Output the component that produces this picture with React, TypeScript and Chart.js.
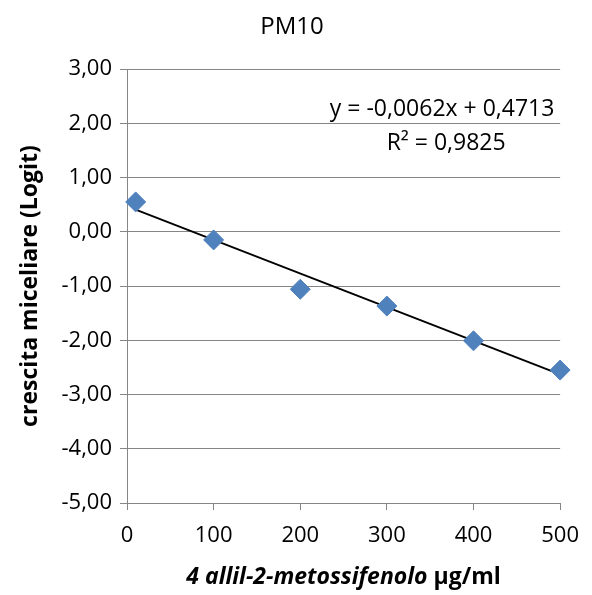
import React, { useEffect, useRef } from 'react';
import { Chart, registerables } from 'chart.js';

Chart.register(...registerables);

// ---- data ----
const concentrations = [10, 100, 200, 300, 400, 500];
const logitGrowth = [0.55, -0.15, -1.06, -1.37, -2.01, -2.55];
const trendSlope = -0.0062;
const trendIntercept = 0.4713;
const trendRange = [10, 500];
const xTickValues = [0, 100, 200, 300, 400, 500];
const yTickValues = [3, 2, 1, 0, -1, -2, -3, -4, -5];
const chartTitle = 'PM10';
const yAxisTitle = 'crescita miceliare (Logit)';
const xAxisTitleItalic = '4 allil-2-metossifenolo';
const xAxisTitleUnit = ' µg/ml';
const equationLines = ['y = -0,0062x + 0,4713', 'R² = 0,9825'];

const FONT = '"Open Sans", sans-serif';
const GRID = '#868686';
const MARKER = '#4F81BD';

const fmt = (v: number) => v.toFixed(2).replace('.', ',');

const textPlugin = {
  id: 'customText',
  afterDraw(chart: any) {
    const { ctx, chartArea } = chart;
    const cx = (chartArea.left + chartArea.right) / 2;
    const cy = (chartArea.top + chartArea.bottom) / 2;
    ctx.save();
    ctx.fillStyle = '#000';
    ctx.textBaseline = 'middle';

    // title
    ctx.textAlign = 'center';
    ctx.font = `24px ${FONT}`;
    ctx.fillText(chartTitle, chart.width / 2 - 4, 27);

    // equation
    ctx.font = `23px ${FONT}`;
    ctx.fillText(equationLines[0], chartArea.right - 118, chartArea.top + 40);
    ctx.fillText(equationLines[1], chartArea.right - 114, chartArea.top + 74);

    // y axis title
    ctx.save();
    ctx.translate(30, cy);
    ctx.rotate(-Math.PI / 2);
    ctx.font = `bold 23px ${FONT}`;
    ctx.textAlign = 'center';
    ctx.fillText(yAxisTitle, 0, 0);
    ctx.restore();

    // x axis title (mixed style)
    const italicFont = `italic bold 23px ${FONT}`;
    const boldFont = `bold 23px ${FONT}`;
    ctx.font = italicFont;
    const w1 = ctx.measureText(xAxisTitleItalic).width;
    ctx.font = boldFont;
    const w2 = ctx.measureText(xAxisTitleUnit).width;
    const start = cx - (w1 + w2) / 2;
    ctx.textAlign = 'left';
    ctx.font = italicFont;
    ctx.fillText(xAxisTitleItalic, start, 577);
    ctx.font = boldFont;
    ctx.fillText(xAxisTitleUnit, start + w1, 577);
    ctx.restore();
  },
};

export default function App() {
  const ref = useRef<HTMLCanvasElement>(null);

  useEffect(() => {
    document.body.style.margin = '0';
    const canvas = ref.current;
    if (!canvas) return;
    const points = concentrations.map((x, i) => ({ x, y: logitGrowth[i] }));
    const trend = trendRange.map((x) => ({ x, y: trendIntercept + trendSlope * x }));

    const chart = new Chart(canvas, {
      type: 'scatter',
      data: {
        datasets: [
          {
            data: trend,
            showLine: true,
            borderColor: '#000000',
            borderWidth: 1.8,
            pointRadius: 0,
            pointHoverRadius: 0,
            clip: false,
            order: 2,
          },
          {
            data: points,
            pointStyle: 'rectRot',
            pointRadius: 10,
            pointHoverRadius: 10,
            backgroundColor: MARKER,
            borderColor: MARKER,
            borderWidth: 1,
            clip: false,
            order: 1,
          },
        ],
      },
      options: {
        responsive: false,
        animation: false,
        layout: { padding: { top: 69, right: 27, left: 0, bottom: 0 } },
        plugins: {
          legend: { display: false },
          title: { display: false },
          tooltip: { enabled: false },
        },
        scales: {
          x: {
            type: 'linear',
            min: 0,
            max: 500,
            afterBuildTicks: (s: any) => {
              s.ticks = xTickValues.map((v) => ({ value: v }));
            },
            afterFit: (s: any) => {
              s.height = 92;
            },
            ticks: {
              color: '#000',
              font: { family: FONT, size: 22 },
              padding: 13,
              maxRotation: 0,
              callback: (v: any) => String(v),
            },
            grid: {
              drawOnChartArea: false,
              drawTicks: true,
              tickLength: 7,
              tickColor: GRID,
            },
            border: { display: true, color: GRID, width: 1 },
          },
          y: {
            type: 'linear',
            min: -5,
            max: 3,
            afterBuildTicks: (s: any) => {
              s.ticks = yTickValues.map((v) => ({ value: v }));
            },
            afterFit: (s: any) => {
              s.width = 127;
            },
            ticks: {
              color: '#000',
              font: { family: FONT, size: 22 },
              padding: 8,
              callback: (v: any) => fmt(Number(v)),
            },
            grid: {
              color: GRID,
              lineWidth: 1,
              drawTicks: true,
              tickLength: 7,
              tickColor: GRID,
            },
            border: { display: true, color: GRID, width: 1 },
          },
        },
      },
      plugins: [textPlugin],
    });
    return () => chart.destroy();
  }, []);

  return (
    <div style={{ width: 592, height: 595 }}>
      <canvas ref={ref} width={592} height={595} style={{ display: 'block' }} />
    </div>
  );
}
